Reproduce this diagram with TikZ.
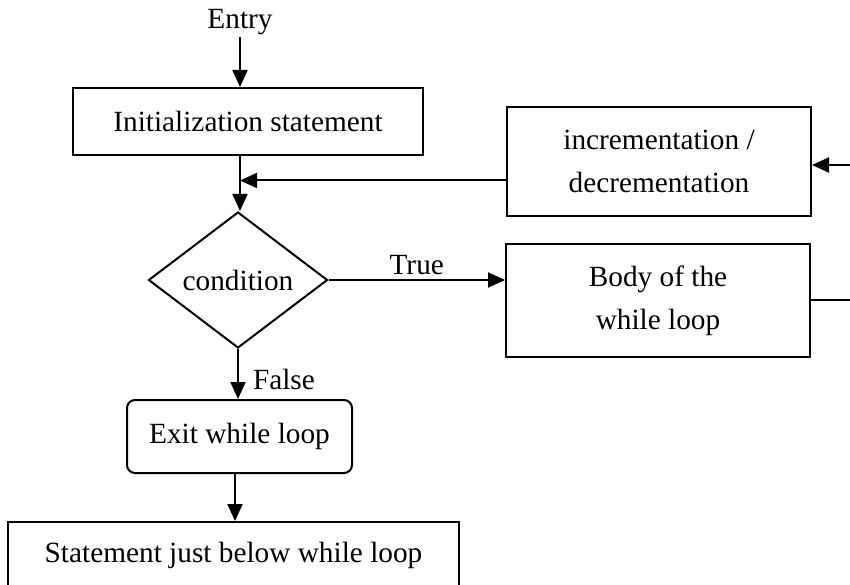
\documentclass[tikz,border=0pt]{standalone}
\usepackage{fontspec}
\setmainfont{Liberation Serif}
\usetikzlibrary{shapes.geometric,arrows.meta}
\tikzset{
  box/.style={draw, line width=2pt, inner sep=0pt, align=center},
  plain/.style={inner sep=0pt, align=center},
  arr/.style={line width=2pt, -{Triangle[length=17pt,width=15pt]}},
  wire/.style={line width=2pt},
}
\begin{document}
\begin{tikzpicture}[x=1pt,y=-1pt,font=\fontsize{29.3}{43}\selectfont]
\useasboundingbox (0,0) rectangle (850,585);
\clip (0,0) rectangle (850,585);
% blocks
\node[plain] (entry) at (240,22) {Entry};
\node[box, minimum width=350pt, minimum height=67pt] (init) at (248,121.5) {Initialization statement};
\node[box, minimum width=304pt, minimum height=109pt] (incr) at (659,161.5) {incrementation /\\decrementation};
\node[box, diamond, aspect=1.316, minimum width=179pt, minimum height=136pt] (cond) at (238,280) {condition};
\node[box, minimum width=304pt, minimum height=113pt] (body) at (658,300.5) {Body of the\\while loop};
\node[box, rounded corners=8pt, minimum width=225pt, minimum height=73pt] (exit) at (239.5,436.5) {Exit while loop};
\node[box, minimum width=451pt, minimum height=66pt] (stmt) at (233.5,555) {Statement just below while loop};
% loop-back ends leaving the right edge
\coordinate (backin) at (852,165);
\coordinate (bodyout) at (852,300);
\coordinate (mainx) at (240,0);
% connectors
\draw[arr] ([yshift=-2pt]entry.south) -- (entry.south |- init.north);
\draw[arr] (mainx |- init.south) -- (mainx |- cond.north);
\draw[arr] (backin) -- (backin -| incr.east);
\draw[arr] ([yshift=-19pt]incr.west) -- ([yshift=-19pt]incr.west -| mainx);
\draw[arr] (cond.east) -- node[plain, above=4pt] {True} (cond.east -| body.west);
\draw[wire] (body.east |- bodyout) -- (bodyout);
\draw[arr] (cond.south) -- node[plain, right=14pt, pos=0.6] {False} (cond.south |- exit.north);
\draw[arr] ([xshift=-4.5pt]exit.south) -- ([xshift=-4.5pt]exit.south |- stmt.north);
\end{tikzpicture}
\end{document}
